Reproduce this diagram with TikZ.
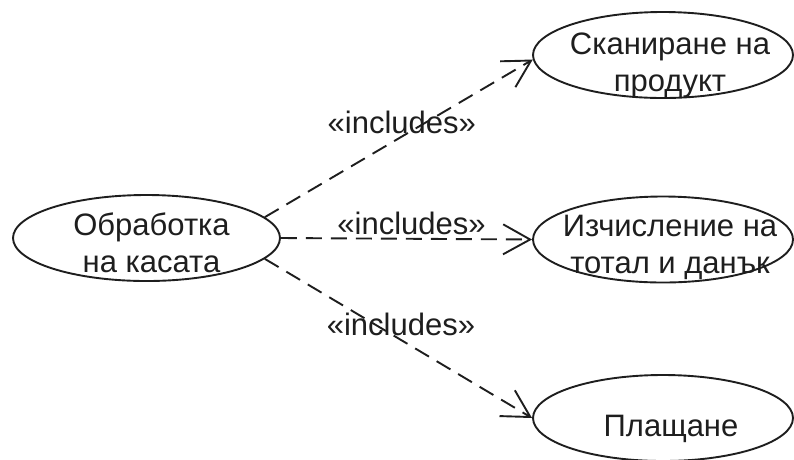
\documentclass[tikz,border=0pt]{standalone}
\usepackage{fontspec}
\setmainfont{Liberation Sans}
\usetikzlibrary{shapes.geometric,arrows.meta}
\definecolor{ink}{HTML}{1E1E1E}
\begin{document}
\begin{tikzpicture}[x=1pt,y=-1pt,
  usecase/.style={draw=ink, line width=1.9pt, ellipse, inner sep=0pt,
    minimum width=#1, minimum height=86pt},
  casetext/.style={text=ink, font=\fontsize{31}{37}\selectfont, align=center, inner sep=0pt},
  include/.style={draw=ink, line width=1.9pt, dash pattern=on 16pt off 9pt,
    -{Straight Barb[length=27pt,width=30pt,line width=1.9pt]}},
  stereo/.style={text=ink, font=\fontsize{31}{37}\selectfont, inner sep=0pt}]
  \useasboundingbox (0,0) rectangle (794,459);

  % use cases
  \node[usecase=267pt,
    label={[casetext,xshift=5pt,yshift=-5pt]center:{Обработка\\на касата}}]
    (proc) at (146.5,238) {};
  \node[usecase=260pt,
    label={[casetext,xshift=7pt,yshift=-10pt]center:{Сканиране на\\продукт}}]
    (scan) at (663,55) {};
  \node[usecase=260pt,
    label={[casetext,xshift=7pt,yshift=-8pt]center:{Изчисление на\\тотал и данък}}]
    (calc) at (663,239.5) {};
  \node[usecase=260pt,
    label={[casetext,xshift=8pt,yshift=-11pt]center:{Плащане}}]
    (pay) at (663,418) {};

  % include relations
  \draw[include] (proc.10) -- (scan.182)
    node[stereo, pos=0.5, xshift=3pt, yshift=15.5pt] (inc1) {«includes»};
  \draw[include] (proc.east) -- (calc.west)
    node[stereo, pos=0.5, xshift=5pt, yshift=15pt] (inc2) {«includes»};
  \draw[include] (proc.-10) -- (pay.west)
    node[stereo, pos=0.5, xshift=2.5pt, yshift=14pt] (inc3) {«includes»};
\end{tikzpicture}
\end{document}
